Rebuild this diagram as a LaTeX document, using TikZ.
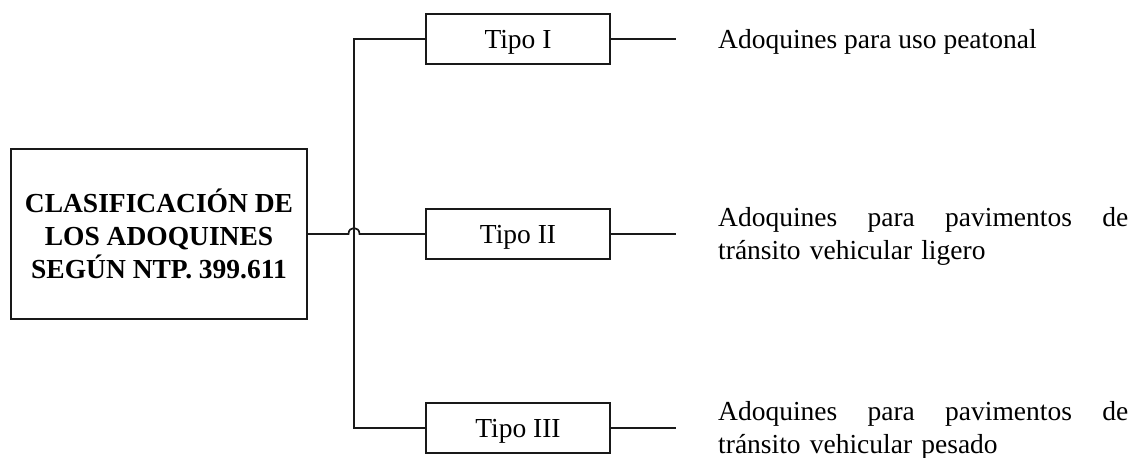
\documentclass[tikz,border=0pt]{standalone}
\usepackage{fontspec}
\setmainfont{Liberation Serif}
\usetikzlibrary{calc}
\begin{document}
\begin{tikzpicture}[x=1pt,y=-1pt,
  font=\fontsize{27.5}{33}\selectfont,
  conn/.style={line width=1.7pt,draw=black!90},
  tipobox/.style={draw=black!90,line width=1.7pt,minimum width=184pt,minimum height=50pt,inner sep=0pt,text height=18pt,text depth=0pt},
  mainbox/.style={draw=black!90,line width=1.7pt,minimum width=296pt,minimum height=170pt,inner sep=0pt,align=center,font=\fontsize{27.5}{33}\selectfont\bfseries},
  desc/.style={anchor=west,inner sep=0pt,align=left}]
\useasboundingbox (0,0) rectangle (1133,458);
\node[mainbox] (main) at (159,234) {CLASIFICACIÓN DE\\LOS ADOQUINES\\SEGÚN NTP. 399.611};
\node[tipobox] (t1) at (518,39) {Tipo I};
\node[tipobox] (t2) at (518,234) {Tipo II};
\node[tipobox] (t3) at (518,428) {Tipo III};
\coordinate (j) at (354,234);
\coordinate (e1) at (676,39);
\coordinate (e2) at (676,234);
\coordinate (e3) at (676,428);
\node[desc,text height=18pt,text depth=0pt] (d1) at (718,39) {Adoquines para uso peatonal};
\node[desc,text width=410pt] (d2) at (718,236.5) {\hbox to 410pt{Adoquines\hfill para\hfill pavimentos\hfill de}\\tránsito vehicular ligero};
\node[desc,text width=410pt] (d3) at (718,430) {\hbox to 410pt{Adoquines\hfill para\hfill pavimentos\hfill de}\\tránsito vehicular pesado};
\draw[conn] (t1.west) -| (j) |- (t3.west);
\draw[conn] (main.east) -- ($(j)+(-5.5,0)$) .. controls ($(j)+(-5.5,-8)$) and ($(j)+(5.5,-8)$) .. ($(j)+(5.5,0)$) -- (t2.west);
\draw[conn] (t1.east) -- (e1);
\draw[conn] (t2.east) -- (e2);
\draw[conn] (t3.east) -- (e3);
\end{tikzpicture}
\end{document}
